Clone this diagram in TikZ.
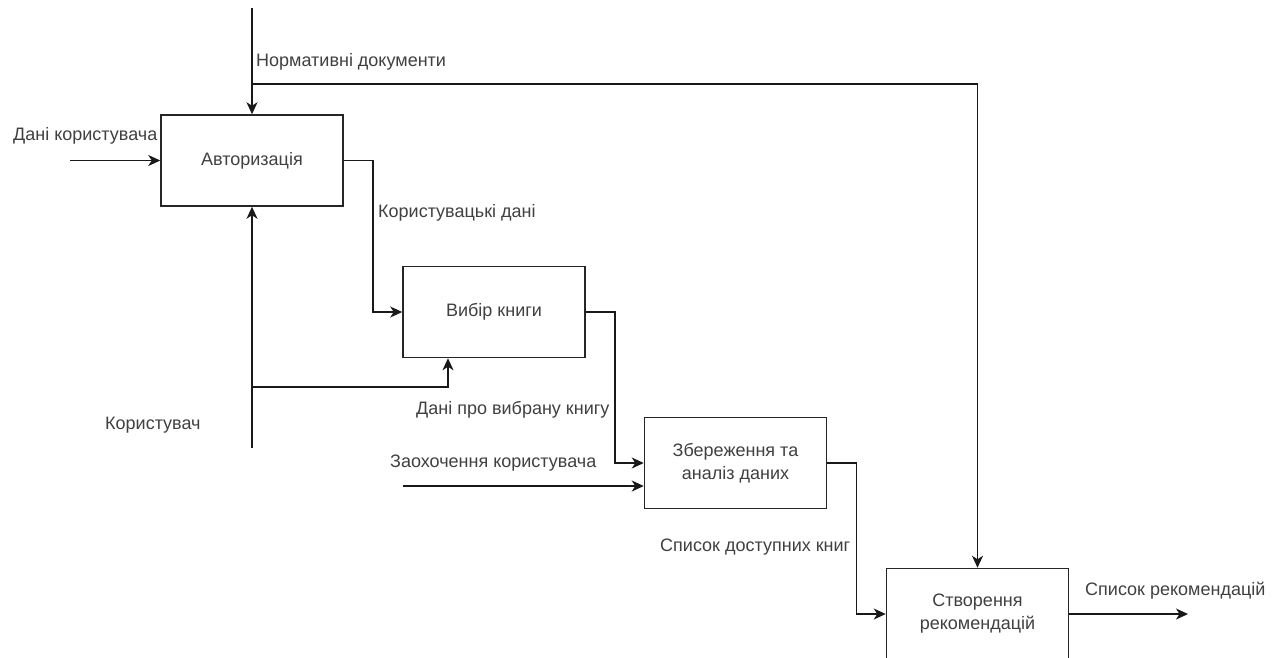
\documentclass[tikz,border=0pt]{standalone}
\usepackage{fontspec}
\setmainfont{Liberation Sans}
\usetikzlibrary{arrows.meta,calc}
\begin{document}
\begin{tikzpicture}[x=1pt,y=-1pt,
  proc/.style={draw=black!85, line width=1.5pt, minimum width=182pt, minimum height=91pt,
    inner sep=0pt, align=center, font=\fontsize{18}{23}\selectfont, text=black!75},
  flow/.style={draw=black!90, line width=1.5pt},
  arr/.style={flow, -{Stealth[length=12pt,width=11pt,inset=3.5pt]}},
  lbl/.style={anchor=west, inner sep=0pt, font=\fontsize{18}{22}\selectfont, text=black!75}]
  \useasboundingbox (0,0) rectangle (1281,657);
  \fill[white] (0,0) rectangle (1281,657);

  % activity boxes
  \node[proc] (A) at (252,160.5) {Авторизація};
  \node[proc] (B) at (494,312) {Вибір книги};
  \node[proc] (C) at (735.5,463) {Збереження та\\аналіз даних};
  \node[proc] (D) at (977.5,614) {Створення\\рекомендацій};

  % free ends of the boundary arrows
  \coordinate (ctlTop) at (252,8);
  \coordinate (ctlSplit) at (252,84);
  \coordinate (inUser) at (70,160.5);
  \coordinate (mechBot) at (252,448);
  \coordinate (mechSplit) at (252,387);
  \coordinate (inBonus) at (403,486);
  \coordinate (outRec) at (1188,614);

  % controls
  \draw[arr] (ctlTop) -- (A.north);
  \draw[arr] (ctlSplit) -| (D.north);

  % inputs and outputs
  \draw[arr] (inUser) -- (A.west);
  \draw[arr] (A.east) -- ++(29,0) |- (B.west);
  \draw[arr] (B.east) -- ++(29,0) |- (C.west);
  \draw[arr] (inBonus) -- (inBonus -| C.west);
  \draw[arr] (C.east) -- ++(29,0) |- (D.west);
  \draw[arr] (D.east) -- (outRec);

  % mechanism
  \draw[arr] (mechBot) -- (A.south);
  \draw[arr] (mechSplit) -| ($(B.south)+(-46,0)$);

  % labels
  \node[lbl] (l1) at (256,62) {Нормативні документи};
  \node[lbl] (l2) at (13,136) {Дані користувача};
  \node[lbl] (l3) at (378,213) {Користувацькі дані};
  \node[lbl] (l4) at (416,410) {Дані про вибрану книгу};
  \node[lbl] (l5) at (105,425) {Користувач};
  \node[lbl] (l6) at (390,463) {Заохочення користувача};
  \node[lbl] (l7) at (660,547) {Список доступних книг};
  \node[lbl] (l8) at (1085,591) {Список рекомендацій};
\end{tikzpicture}
\end{document}
